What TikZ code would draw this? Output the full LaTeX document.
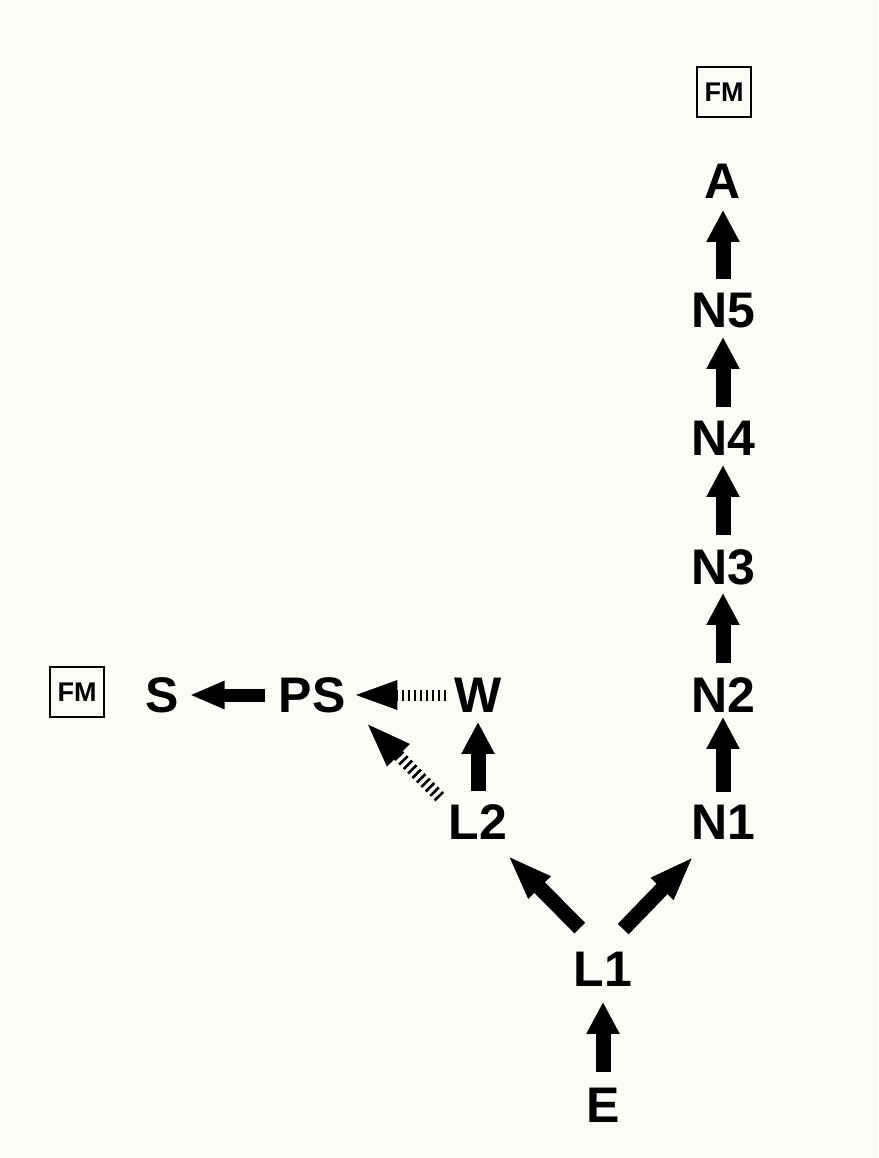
\documentclass[tikz,border=0pt]{standalone}
\usepackage{fontspec}
\setmainfont{Liberation Sans}
\usetikzlibrary{arrows.meta}
\definecolor{paper}{RGB}{253,251,248}
\begin{document}
\begin{tikzpicture}[x=1pt,y=-1pt,
  lbl/.style={inner sep=0pt,outer sep=0pt,text height=35.8pt,text depth=0pt,
    font=\fontsize{50}{60}\selectfont\bfseries},
  fmbox/.style={draw,line width=2.5pt,inner sep=0pt,minimum width=54pt,minimum height=50pt,
    text height=19.3pt,text depth=0pt,font=\fontsize{27}{32}\selectfont\bfseries},
  vup/.style={line width=15pt,-{Triangle[length=32pt,width=31pt]}},
  hzl/.style={line width=13pt,-{Triangle[length=35pt,width=26pt]}},
  diag/.style={line width=15pt,-{Triangle[length=46pt,width=28pt]}},
  hzdash/.style={line width=11pt,dash pattern=on 2.5pt off 3.5pt,-{Triangle[length=45pt,width=26pt]}},
  dgdash/.style={line width=12pt,dash pattern=on 2.6pt off 3.7pt,-{Triangle[length=47pt,width=28pt]}}]
\fill[paper] (0,0) rectangle (878,1158);
\useasboundingbox (0,0) rectangle (878,1158);

% labels
\node[fmbox] (FMt) at (724,92) {FM};
\node[fmbox] (FMl) at (77,692) {FM};
\node[lbl] (A)  at (723,181) {A};
\node[lbl] (N5) at (723,310) {N5};
\node[lbl] (N4) at (723,438) {N4};
\node[lbl] (N3) at (723,567) {N3};
\node[lbl] (N2) at (723,695) {N2};
\node[lbl] (N1) at (723,822) {N1};
\node[lbl] (W)  at (478,695) {W};
\node[lbl] (L2) at (478,822) {L2};
\node[lbl] (L1) at (603,969) {L1};
\node[lbl] (E)  at (603,1105) {E};
\node[lbl] (PS) at (312,695) {PS};
\node[lbl] (S)  at (162,695) {S};

% main column
\draw[vup,shorten <=13pt,shorten >=11pt] (N5.north) -- (A.south);
\draw[vup,shorten <=13pt,shorten >=9pt] (N4.north) -- (N5.south);
\draw[vup,shorten <=14pt,shorten >=9pt] (N3.north) -- (N4.south);
\draw[vup,shorten <=14pt,shorten >=8pt] (N2.north) -- (N3.south);
\draw[vup,shorten <=12pt,shorten >=4pt] (N1.north) -- (N2.south);
\draw[vup,shorten <=15pt,shorten >=15pt] (E.north) -- (L1.south);

% branches from L1
\draw[diag] ([xshift=6pt,yshift=23pt]L1.north west) -- ([yshift=-15pt]L2.south east);
\draw[diag] ([xshift=-9pt,yshift=22pt]L1.north east) -- ([xshift=3pt,yshift=-16pt]N1.south west);

% left branch
\draw[vup,shorten <=13pt,shorten >=9pt] (L2.north) -- (W.south);
\draw[hzdash,shorten <=8pt,shorten >=7pt] (W.west) -- (PS.east);
\draw[dgdash] ([xshift=-9pt,yshift=7pt]L2.north west) -- ([xshift=20pt,yshift=-9pt]PS.south east);
\draw[hzl,shorten <=14pt,shorten >=11pt] (PS.west) -- (S.east);
\end{tikzpicture}
\end{document}
